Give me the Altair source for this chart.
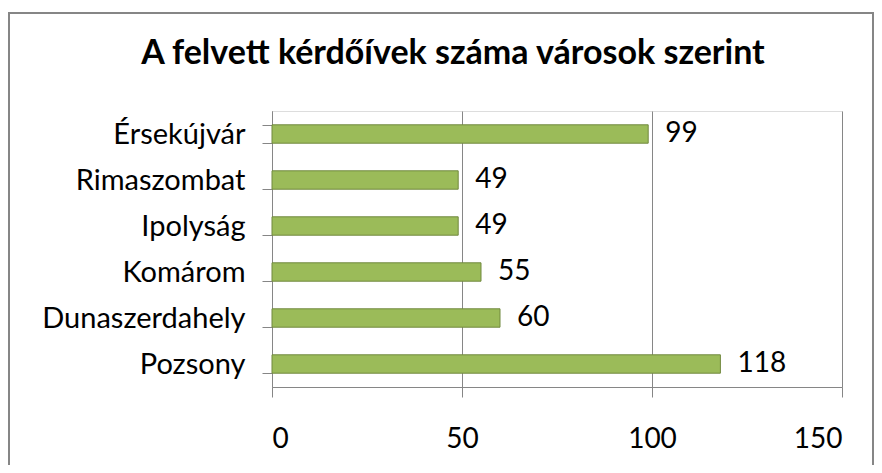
import altair as alt
import pandas as pd

cities = ["Érsekújvár", "Rimaszombat", "Ipolyság", "Komárom", "Dunaszerdahely", "Pozsony"]
counts = [99, 49, 49, 55, 60, 118]
x_ticks = [0, 50, 100, 150]
title_text = "A felvett kérdőívek száma városok szerint"

df = pd.DataFrame({"city": cities, "count": counts})
frame_df = pd.DataFrame({"k": [0]})

FONT = "Lato"
GRAY = "#868686"

y_enc = alt.Y(
    "city:N", sort=cities, title=None,
    scale=alt.Scale(paddingInner=0.6, paddingOuter=0.3),
    axis=alt.Axis(tickBand="extent", domainColor=GRAY, tickColor=GRAY, tickSize=10,
                  labelFontSize=29, labelFont=FONT, labelColor="black", labelPadding=17,
                  labelLimit=400, grid=False),
)
x_enc = alt.X(
    "count:Q", title=None,
    scale=alt.Scale(domain=[0, 150]),
    axis=alt.Axis(values=x_ticks, grid=True, gridColor=GRAY, gridOpacity=1,
                  domainColor=GRAY, tickColor=GRAY, tickSize=10,
                  labelFontSize=28, labelFont=FONT, labelColor="black", labelPadding=28),
)

border = alt.Chart(frame_df).mark_rect(
    fillOpacity=0, stroke=GRAY, strokeWidth=2
).encode(
    x=alt.value(-263), x2=alt.value(601), y=alt.value(-98), y2=alt.value(400)
)

bars = alt.Chart(df).mark_bar(
    color="#9BBB59", stroke="#71893F", strokeWidth=1
).encode(x=x_enc, y=y_enc)

labels = alt.Chart(df).mark_text(
    align="left", baseline="middle", dx=17, fontSize=28, font=FONT, color="black"
).encode(x=x_enc, y=y_enc, text="count:Q")

chart = alt.layer(border, bars, labels).properties(
    width=570, height=276,
    autosize=alt.AutoSizeParams(type="none"),
    padding={"left": 264, "top": 103, "right": 32, "bottom": 78},
    title=alt.TitleParams(
        text=title_text, font=FONT, fontSize=34, fontWeight="bold", color="black",
        anchor="middle", frame="group", dx=-104, offset=-86, baseline="alphabetic",
    ),
).configure_view(fill="#EEF0E8", stroke="transparent").configure(background="white")

chart.save("out.html", embed_options={"renderer": "svg", "actions": False})
